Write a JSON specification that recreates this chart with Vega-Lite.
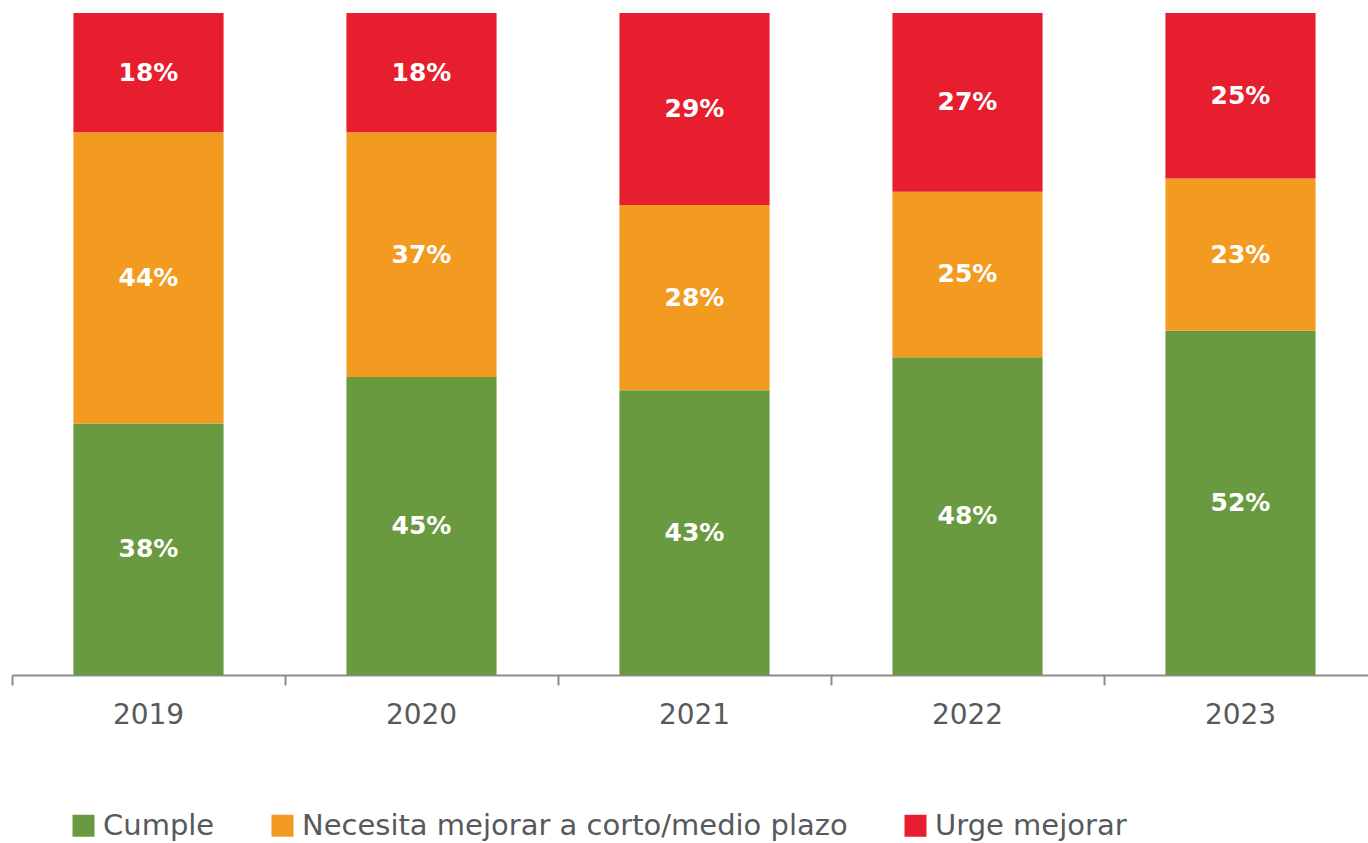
{
  "$schema": "https://vega.github.io/schema/vega-lite/v6.json",
  "autosize": {"type": "none"},
  "width": 1365,
  "height": 662,
  "padding": {"left": 12, "top": 13, "right": 0, "bottom": 168},
  "background": "white",
  "config": {"view": {"stroke": null}, "font": "DejaVu Sans"},
  "data": {
    "values": [
      {"year": "2019", "cat": "Cumple", "ord": 1, "value": 38},
      {"year": "2019", "cat": "Necesita mejorar a corto/medio plazo", "ord": 2, "value": 44},
      {"year": "2019", "cat": "Urge mejorar", "ord": 3, "value": 18},
      {"year": "2020", "cat": "Cumple", "ord": 1, "value": 45},
      {"year": "2020", "cat": "Necesita mejorar a corto/medio plazo", "ord": 2, "value": 37},
      {"year": "2020", "cat": "Urge mejorar", "ord": 3, "value": 18},
      {"year": "2021", "cat": "Cumple", "ord": 1, "value": 43},
      {"year": "2021", "cat": "Necesita mejorar a corto/medio plazo", "ord": 2, "value": 28},
      {"year": "2021", "cat": "Urge mejorar", "ord": 3, "value": 29},
      {"year": "2022", "cat": "Cumple", "ord": 1, "value": 48},
      {"year": "2022", "cat": "Necesita mejorar a corto/medio plazo", "ord": 2, "value": 25},
      {"year": "2022", "cat": "Urge mejorar", "ord": 3, "value": 27},
      {"year": "2023", "cat": "Cumple", "ord": 1, "value": 52},
      {"year": "2023", "cat": "Necesita mejorar a corto/medio plazo", "ord": 2, "value": 23},
      {"year": "2023", "cat": "Urge mejorar", "ord": 3, "value": 25}
    ]
  },
  "transform": [
    {"stack": "value", "groupby": ["year"], "sort": [{"field": "ord", "order": "ascending"}], "as": ["v0", "v1"]},
    {"calculate": "(datum.v0 + datum.v1) / 2", "as": "mid"},
    {"calculate": "datum.value + '%'", "as": "label"}
  ],
  "encoding": {
    "x": {
      "field": "year", "type": "nominal", "title": null,
      "scale": {"paddingInner": 0, "paddingOuter": 0},
      "axis": {
        "bandPosition": 0,
        "domainColor": "#8c8c8c", "domainWidth": 2,
        "tickColor": "#8c8c8c", "tickWidth": 2, "tickSize": 10,
        "labelFontSize": 28, "labelColor": "#58595b", "labelPadding": 16,
        "labelAngle": 0, "labelFont": "DejaVu Sans"
      }
    }
  },
  "layer": [
    {
      "mark": {"type": "bar", "width": {"band": 0.55}},
      "encoding": {
        "y": {"field": "v0", "type": "quantitative", "scale": {"domain": [0, 100], "nice": false}, "axis": null},
        "y2": {"field": "v1"},
        "color": {
          "field": "cat", "type": "nominal", "title": null,
          "scale": {
            "domain": ["Cumple", "Necesita mejorar a corto/medio plazo", "Urge mejorar"],
            "range": ["#6a9a3f", "#f39b20", "#e61e2d"]
          },
          "legend": {
            "orient": "none", "legendX": 57, "legendY": 798,
            "direction": "horizontal",
            "symbolType": "square", "symbolSize": 484, "symbolStrokeWidth": 0,
            "labelFontSize": 29, "labelColor": "#58595b", "labelFont": "DejaVu Sans",
            "labelOffset": 5, "columnPadding": 53, "labelLimit": 800
          }
        }
      }
    },
    {
      "mark": {"type": "text", "color": "white", "fontSize": 25, "fontWeight": "bold", "font": "DejaVu Sans", "baseline": "middle"},
      "encoding": {
        "y": {"field": "mid", "type": "quantitative"},
        "text": {"field": "label", "type": "nominal"},
        "detail": {"field": "cat"}
      }
    }
  ]
}
